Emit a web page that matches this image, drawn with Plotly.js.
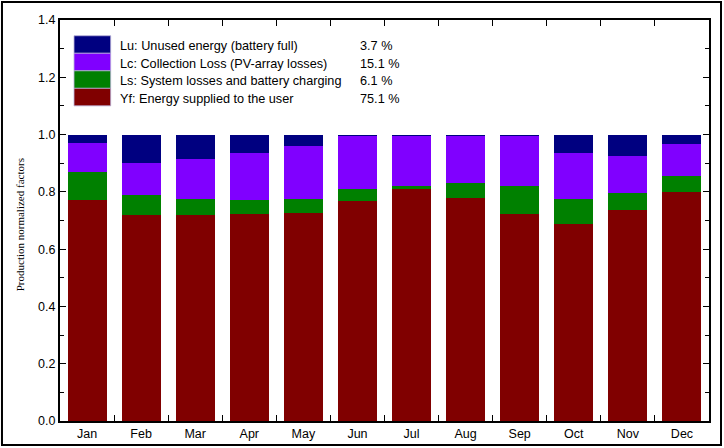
<!DOCTYPE html>
<html>
<head>
<meta charset="utf-8">
<script src="https://cdn.plot.ly/plotly-3.0.1.min.js"></script>
<style>
  html, body { margin: 0; padding: 0; background: #fff; }
  #chart { width: 724px; height: 448px; }
</style>
</head>
<body>
<div id="chart"></div>
<script>
// ---- Data ----
const months = ["Jan","Feb","Mar","Apr","May","Jun","Jul","Aug","Sep","Oct","Nov","Dec"];
const yf = [0.772,0.719,0.719,0.723,0.726,0.768,0.809,0.780,0.723,0.687,0.737,0.801];
const ls = [0.098,0.069,0.057,0.050,0.050,0.041,0.012,0.050,0.098,0.089,0.060,0.056];
const lc = [0.101,0.114,0.139,0.162,0.183,0.187,0.175,0.166,0.175,0.159,0.129,0.110];
const lu = [0.029,0.098,0.085,0.065,0.041,0.004,0.004,0.004,0.004,0.065,0.074,0.033];

const seriesNames = [
  "Lu: Unused energy (battery full)",
  "Lc: Collection Loss (PV-array losses)",
  "Ls: System losses and battery charging",
  "Yf: Energy supplied to the user"
];
const seriesPct = ["3.7 %", "15.1 %", "6.1 %", "75.1 %"];
const yTickVals = [0, 0.2, 0.4, 0.6, 0.8, 1.0, 1.2, 1.4];
const yTickText = ["0.0","0.2","0.4","0.6","0.8","1.0","1.2","1.4"];

// ---- Styles ----
const cLu = "#000080", cLc = "#8000FF", cLs = "#008000", cYf = "#800000";
const legendColors = [cLu, cLc, cLs, cYf];

function barTrace(vals, color, name) {
  return {
    type: "bar", x: months, y: vals, name: name,
    marker: { color: color, line: { width: 0 } },
    hoverinfo: "x+y+name"
  };
}

const traces = [
  barTrace(yf, cYf, seriesNames[3]),
  barTrace(ls, cLs, seriesNames[2]),
  barTrace(lc, cLc, seriesNames[1]),
  barTrace(lu, cLu, seriesNames[0])
];

// Custom legend (boxes + text) in the upper-left of the plot
const shapes = [];
const annotations = [];
const legTop = 1.345, rowH = 0.0612;
const boxX0 = 0.0216, boxX1 = 0.0781;
const legFont = { family: "Liberation Sans, Arial, sans-serif", size: 12.7, color: "#000" };
for (let i = 0; i < seriesNames.length; i++) {
  const y1 = legTop - i * rowH, y0 = y1 - rowH;
  shapes.push({
    type: "rect", xref: "paper", yref: "y",
    x0: boxX0, x1: boxX1, y0: y0, y1: y1,
    fillcolor: legendColors[i], line: { color: "#b8b0d8", width: 0.8 }, layer: "above"
  });
  annotations.push({
    xref: "paper", yref: "y", x: 0.0895, y: (y0 + y1) / 2 - 0.006,
    text: seriesNames[i], showarrow: false, xanchor: "left", yanchor: "middle",
    font: legFont
  });
  annotations.push({
    xref: "paper", yref: "y", x: 0.4590, y: (y0 + y1) / 2 - 0.006,
    text: seriesPct[i], showarrow: false, xanchor: "left", yanchor: "middle",
    font: legFont
  });
}

// Outer frame around the whole figure
shapes.push({
  type: "rect", xref: "paper", yref: "paper",
  x0: -0.0894, x1: 1.0185, y0: -0.0599, y1: 1.0449,
  line: { color: "#000", width: 2 }, fillcolor: "rgba(0,0,0,0)", layer: "below"
});

// Y-axis title (serif)
annotations.push({
  xref: "paper", yref: "paper", x: -0.062, y: 0.49,
  text: "Production normalized factors", textangle: -90, showarrow: false,
  xanchor: "center", yanchor: "middle",
  font: { family: "Liberation Serif, Times New Roman, serif", size: 11, color: "#000" }
});

const layout = {
  width: 724, height: 448,
  margin: { l: 60, r: 15, t: 20, b: 27, pad: 0 },
  paper_bgcolor: "#fff", plot_bgcolor: "#fff",
  barmode: "stack", bargap: 0.28,
  showlegend: false,
  font: { family: "Liberation Sans, Arial, sans-serif", size: 12, color: "#000" },
  xaxis: {
    type: "category",
    showline: true, linecolor: "#000", linewidth: 2, mirror: "ticks",
    ticks: "inside", tickson: "boundaries", ticklen: 6, tickcolor: "#000", tickwidth: 1,
    showgrid: false, zeroline: false,
    tickfont: { family: "Liberation Sans, Arial, sans-serif", size: 12.5, color: "#000" },
    fixedrange: true
  },
  yaxis: {
    range: [0, 1.4],
    tickvals: yTickVals, ticktext: yTickText,
    showline: true, linecolor: "#000", linewidth: 2, mirror: "ticks",
    ticks: "inside", ticklen: 6, tickcolor: "#000", tickwidth: 1,
    minor: { dtick: 0.1, tick0: 0, ticks: "inside", ticklen: 4, tickcolor: "#000", tickwidth: 1, showgrid: false },
    showgrid: false, zeroline: false,
    tickfont: { family: "Liberation Sans, Arial, sans-serif", size: 12.5, color: "#000" },
    fixedrange: true
  },
  shapes: shapes,
  annotations: annotations
};

Plotly.newPlot("chart", traces, layout, { displayModeBar: false, staticPlot: true });
</script>
</body>
</html>
